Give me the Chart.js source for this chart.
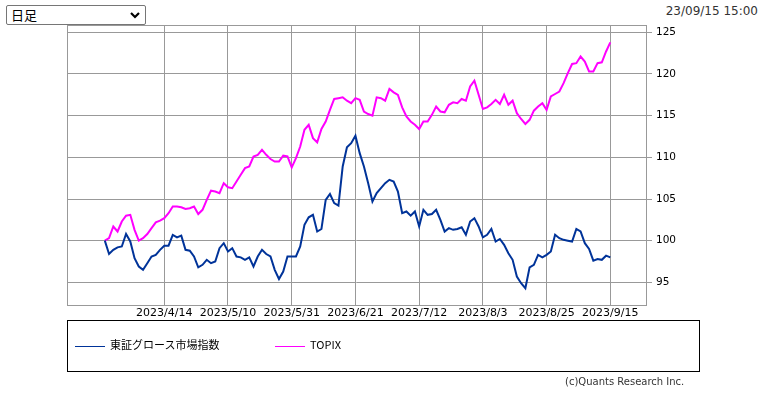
<!DOCTYPE html>
<html>
<head>
<meta charset="utf-8">
<script src="https://cdn.jsdelivr.net/npm/chart.js@4.4.0/dist/chart.umd.min.js"></script>
<style>
  html, body { margin: 0; padding: 0; background: #fff; }
  body { width: 766px; height: 395px; position: relative; overflow: hidden; }
  #chart { position: absolute; left: 0; top: 0; }
  #period {
    position: absolute; left: 6px; top: 5px; width: 140px; height: 20px;
    box-sizing: border-box; border: 1px solid #767676; border-radius: 2px; background: #fff;
    font: 13px "Noto Sans CJK JP", sans-serif; color: #000; line-height: 18px; padding-left: 4px;
  }
  #period svg { position: absolute; right: 5px; top: 6px; }
  #stamp {
    position: absolute; right: 8px; top: 4px;
    font: 12px "DejaVu Sans", sans-serif; color: #333;
  }
  #legend {
    position: absolute; left: 67px; top: 320px; width: 631px; height: 50px;
    border: 1px solid #000; font: 11px "Noto Sans CJK JP", sans-serif; color: #000;
  }
  .item { position: absolute; top: 16px; height: 14px; line-height: 14px; }
  .item i { display: inline-block; width: 30px; height: 1px; vertical-align: middle; margin-right: 5px; }
  #copy {
    position: absolute; left: 565px; top: 376px;
    font: 10px "DejaVu Sans", sans-serif; color: #333;
  }
</style>
</head>
<body>
<div id="period">日足<svg width="10" height="7" viewBox="0 0 10 7"><path d="M1 1 L5 5 L9 1" fill="none" stroke="#000" stroke-width="2.2"/></svg></div>
<div id="stamp">23/09/15 15:00</div>
<canvas id="chart" width="766" height="395"></canvas>
<div id="legend">
  <div class="item" style="left:7px"><i style="background:#003399"></i>東証グロース市場指数</div>
  <div class="item" style="left:207px"><i style="background:#ff00ff"></i>TOPIX</div>
</div>
<div id="copy">(c)Quants Research Inc.</div>
<script>
// tick labels and their trading-day positions
var tickLabels = ["2023/4/14", "2023/5/10", "2023/5/31", "2023/6/21", "2023/7/12", "2023/8/3", "2023/8/25", "2023/9/15"];
var tickIndex = [14, 29, 44, 59, 74, 89, 104, 119];
var yTicks = [95, 100, 105, 110, 115, 120, 125];

// 東証グロース市場指数 (rebased to 100)
var growth = [
  100, 98.4, 98.9, 99.2, 99.3, 100.8, 99.9, 97.9, 96.9, 96.5,
  97.3, 98.1, 98.3, 98.9, 99.4, 99.4, 100.7, 100.4, 100.6, 98.9,
  98.8, 98.1, 96.8, 97.1, 97.7, 97.3, 97.5, 99.1, 99.7, 98.7,
  99.1, 98.1, 98.0, 97.7, 98.0, 96.9, 98.1, 98.9, 98.4, 98.1,
  96.5, 95.4, 96.3, 98.1, 98.1, 98.1, 99.3, 101.9, 102.8, 103.1,
  101.1, 101.4, 104.9, 105.6, 104.5, 104.2, 108.9, 111.2, 111.7, 112.6,
  110.5, 108.9, 106.9, 104.7, 105.7, 106.3, 106.9, 107.3, 107.1, 105.9,
  103.3, 103.5, 103.0, 103.5, 101.7, 103.7, 103.1, 103.2, 103.7, 102.5,
  101.1, 101.5, 101.3, 101.4, 101.6, 100.7, 102.3, 102.7, 101.7, 100.4,
  100.7, 101.4, 99.9, 100.2, 99.5, 98.5, 97.7, 95.7, 94.9, 94.3,
  96.8, 97.1, 98.3, 98.0, 98.3, 98.7, 100.7, 100.3, 100.1, 100.0,
  99.9, 101.4, 101.1, 99.7, 99.0, 97.6, 97.8, 97.7, 98.2, 98.0
];

// TOPIX (rebased to 100)
var topix = [
  100, 100.3, 101.7, 101.1, 102.3, 103.0, 103.1, 101.3, 100.0, 100.3,
  100.8, 101.5, 102.2, 102.4, 102.7, 103.3, 104.1, 104.1, 104.0, 103.8,
  103.9, 104.1, 103.2, 103.7, 104.9, 106.0, 105.9, 105.7, 106.9, 106.4,
  106.3, 107.1, 107.9, 108.7, 108.9, 110.1, 110.3, 110.9, 110.3, 109.8,
  109.5, 109.5, 110.2, 110.1, 108.8, 109.9, 111.3, 113.3, 113.9, 112.3,
  111.8, 113.4, 114.3, 115.7, 117.0, 117.1, 117.2, 116.8, 116.5, 117.1,
  116.9, 115.5, 115.2, 115.0, 117.2, 117.1, 116.8, 118.2, 117.8, 117.5,
  116.0, 114.9, 114.3, 113.9, 113.4, 114.3, 114.3, 115.1, 116.1, 115.5,
  115.4, 116.3, 116.6, 116.5, 117.0, 116.8, 118.5, 119.2, 117.5, 115.8,
  116.0, 116.4, 116.9, 116.4, 117.5, 116.3, 116.8, 115.3, 114.6, 114.0,
  114.5, 115.6, 116.1, 116.5, 115.7, 117.3, 117.6, 117.9, 118.9, 120.1,
  121.2, 121.3, 122.1, 121.5, 120.3, 120.3, 121.3, 121.4, 122.7, 123.8
];

function toPoints(arr) {
  return arr.map(function (v, i) { return { x: i, y: v }; });
}

// plot frame
var framePlugin = {
  id: "frame",
  afterDraw: function (chart) {
    var a = chart.chartArea, ctx = chart.ctx;
    ctx.save();
    ctx.strokeStyle = "#999";
    ctx.lineWidth = 1;
    ctx.strokeRect(Math.round(a.left) + 0.5, Math.round(a.top) + 0.5,
      Math.round(a.right - a.left), Math.round(a.bottom - a.top));
    ctx.restore();
  }
};

Chart.defaults.font.family = "'DejaVu Sans', sans-serif";
Chart.defaults.color = "#000";

new Chart(document.getElementById("chart"), {
  type: "line",
  data: {
    datasets: [
      {
        label: "東証グロース市場指数",
        data: toPoints(growth),
        borderColor: "#003399",
        borderWidth: 2,
        pointRadius: 0,
        tension: 0,
      },
      {
        label: "TOPIX",
        data: toPoints(topix),
        borderColor: "#ff00ff",
        borderWidth: 2,
        pointRadius: 0,
        tension: 0,
      },
    ],
  },
  options: {
    responsive: false,
    animation: false,
    devicePixelRatio: 1,
    layout: { padding: { left: 67, top: 25, right: 0, bottom: 0 } },
    plugins: {
      legend: { display: false },
      tooltip: { enabled: false },
    },
    scales: {
      x: {
        type: "linear",
        min: -8.9,
        max: 127.4,
        afterBuildTicks: function (scale) {
          scale.ticks = tickIndex.map(function (v) { return { value: v }; });
        },
        afterFit: function (scale) { scale.height = 90; },
        grid: { color: "#999", drawTicks: false },
        border: { display: false },
        ticks: {
          autoSkip: false,
          maxRotation: 0,
          padding: 2,
          font: { size: 11 },
          callback: function (value, index) { return tickLabels[index]; },
        },
      },
      y: {
        position: "right",
        min: 92.28,
        max: 125.88,
        afterBuildTicks: function (scale) {
          scale.ticks = yTicks.map(function (v) { return { value: v }; });
        },
        afterFit: function (scale) { scale.width = 120; },
        grid: { color: "#999", drawTicks: true, tickLength: 6 },
        border: { display: false },
        ticks: { padding: 4, font: { size: 10.5 } },
      },
    },
  },
  plugins: [framePlugin],
});
</script>
</body>
</html>
